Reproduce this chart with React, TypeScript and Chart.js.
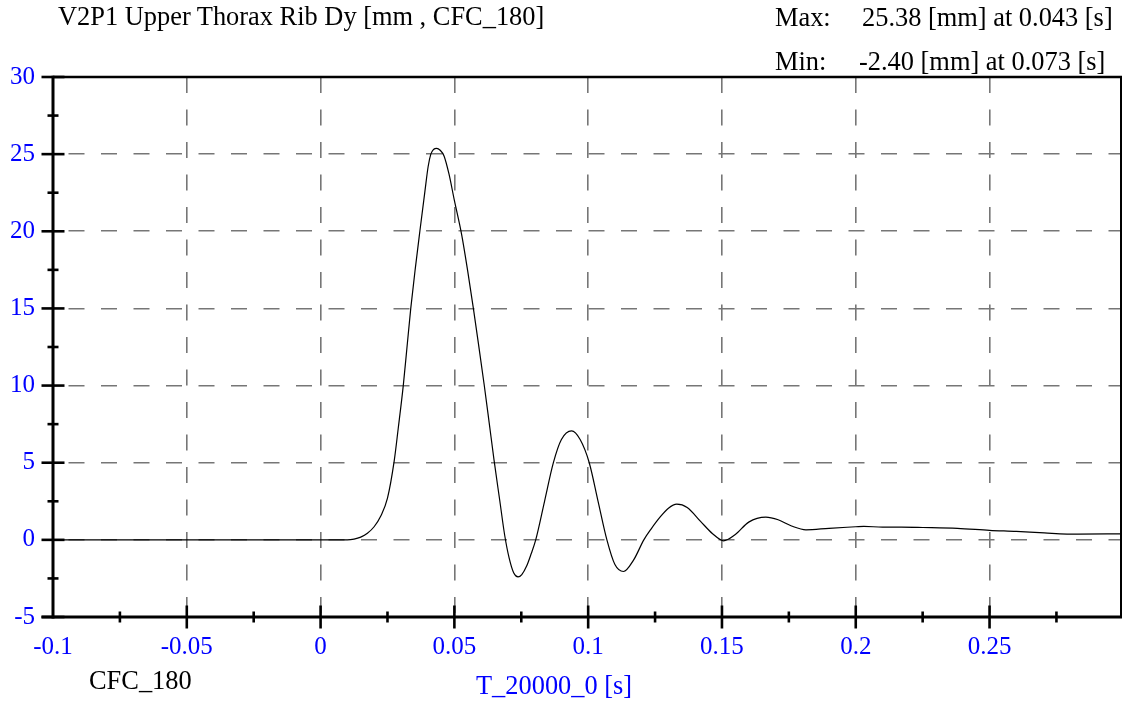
import React, { useEffect, useRef } from "react";
import { Chart, registerables } from "chart.js";

Chart.register(...registerables);

// ---- data ----
const timeS: number[] = [
  -0.1, -0.05, 0.0, 0.01, 0.0125, 0.015, 0.0175, 0.02, 0.0225, 0.025, 0.0275, 0.029,
  0.0309, 0.0323, 0.0337, 0.0354, 0.0371, 0.039, 0.0402, 0.0412, 0.0422, 0.0434, 0.0447,
  0.0461, 0.048, 0.05, 0.0527, 0.055, 0.0571, 0.059, 0.0611, 0.063, 0.0648, 0.067, 0.0688,
  0.0705, 0.0722, 0.0738, 0.0752, 0.077, 0.0787, 0.0804, 0.0837, 0.087, 0.09, 0.0938,
  0.097, 0.1004, 0.1037, 0.107, 0.11, 0.1132, 0.117, 0.1208, 0.1235, 0.127, 0.13, 0.1331,
  0.137, 0.142, 0.1465, 0.1506, 0.155, 0.16, 0.1664, 0.171, 0.176, 0.1814, 0.19, 0.2,
  0.203, 0.21, 0.217, 0.225, 0.238, 0.25, 0.26, 0.2705, 0.283, 0.2995,
];
const ribDyMm: number[] = [
  0, 0, 0, 0, 0.05, 0.18, 0.43, 0.85, 1.55, 2.7, 5.1, 7.2,
  10, 12.5, 15, 17.6, 20, 22.6, 24.2, 25.0, 25.3, 25.38, 25.25,
  24.9, 23.7, 22.0, 19.8, 17.4, 15, 12.7, 10.1, 7.6, 5.2, 2.5, 0.3,
  -1.2, -2.15, -2.4, -2.25, -1.7, -0.9, 0, 2.5, 5, 6.5, 7.06,
  6.5, 5, 2.5, 0, -1.6, -2.05, -1.3, 0, 0.7, 1.5, 2.05, 2.31,
  2.1, 1.2, 0.4, -0.06, 0.35, 1.15, 1.47, 1.3, 0.9, 0.65, 0.75, 0.85,
  0.88, 0.82, 0.82, 0.8, 0.75, 0.62, 0.55, 0.45, 0.37, 0.39,
];

const xMajorTicks: number[] = [-0.1, -0.05, 0, 0.05, 0.1, 0.15, 0.2, 0.25];
const xTickLabels: string[] = ["-0.1", "-0.05", "0", "0.05", "0.1", "0.15", "0.2", "0.25"];
const xMinorTicks: number[] = [-0.075, -0.025, 0.025, 0.075, 0.125, 0.175, 0.225, 0.275];
const yMajorTicks: number[] = [-5, 0, 5, 10, 15, 20, 25, 30];
const yTickLabels: string[] = ["-5", "0", "5", "10", "15", "20", "25", "30"];
const yMinorTicks: number[] = [-2.5, 2.5, 7.5, 12.5, 17.5, 22.5, 27.5];

const titleText = "V2P1 Upper Thorax Rib Dy [mm , CFC_180]";
const maxLabel = "Max:";
const maxText = "25.38 [mm] at 0.043 [s]";
const minLabel = "Min:";
const minText = "-2.40 [mm] at 0.073 [s]";
const filterText = "CFC_180";
const xAxisTitle = "T_20000_0 [s]";

const X_MIN = -0.1;
const X_MAX = 0.2995;
const Y_MIN = -5;
const Y_MAX = 30;

const FONT = "'Liberation Serif', 'Times New Roman', serif";

const axesPlugin = {
  id: "axesPlugin",
  afterDraw(chart: any) {
    const { ctx, chartArea } = chart;
    const { left, right, top, bottom } = chartArea;
    const xs = chart.scales.x;
    const ys = chart.scales.y;
    ctx.save();
    ctx.strokeStyle = "#000";
    ctx.lineCap = "butt";
    const line = (x1: number, y1: number, x2: number, y2: number, w: number) => {
      ctx.lineWidth = w;
      ctx.beginPath();
      ctx.moveTo(x1, y1);
      ctx.lineTo(x2, y2);
      ctx.stroke();
    };
    line(left, top, right, top, 2.5);
    line(right - 1, top, right - 1, bottom, 2);
    line(left, top - 1.25, left, bottom + 1.5, 3);
    line(left - 11.5, bottom, right, bottom, 3);
    xMajorTicks.forEach((v) => {
      if (v === X_MIN) return;
      const px = xs.getPixelForValue(v);
      line(px, bottom - 11.5, px, bottom + 11.5, 2.6);
    });
    xMinorTicks.forEach((v) => {
      const px = xs.getPixelForValue(v);
      line(px, bottom - 5.5, px, bottom + 5.5, 2.6);
    });
    yMajorTicks.forEach((v) => {
      const py = ys.getPixelForValue(v);
      line(left - 11.5, py, left + 11.5, py, 2.6);
    });
    yMinorTicks.forEach((v) => {
      const py = ys.getPixelForValue(v);
      line(left - 5.5, py, left + 5.5, py, 2.6);
    });
    ctx.restore();
  },
};

export default function App() {
  const canvasRef = useRef<HTMLCanvasElement | null>(null);

  useEffect(() => {
    const canvas = canvasRef.current;
    if (!canvas) return;
    const chart = new Chart(canvas, {
      type: "line",
      data: {
        datasets: [
          {
            label: titleText,
            data: timeS.map((t, i) => ({ x: t, y: ribDyMm[i] })),
            borderColor: "#000",
            borderWidth: 1.2,
            pointRadius: 0,
            fill: false,
            cubicInterpolationMode: "monotone",
          },
        ],
      },
      options: {
        responsive: false,
        animation: false,
        devicePixelRatio: 1,
        layout: { padding: { top: 77, right: 1, left: 0, bottom: 0 } },
        plugins: {
          legend: { display: false },
          title: { display: false },
          tooltip: { enabled: false },
        },
        scales: {
          x: {
            type: "linear",
            min: X_MIN,
            max: X_MAX,
            afterBuildTicks: (s: any) => {
              s.ticks = xMajorTicks.map((v) => ({ value: v }));
            },
            afterFit: (s: any) => {
              s.height = 85;
            },
            ticks: {
              color: "#0000ff",
              font: { family: FONT, size: 25 },
              padding: 15,
              maxRotation: 0,
              autoSkip: false,
              callback: (v: any) => {
                const i = xMajorTicks.findIndex((m) => Math.abs(m - Number(v)) < 1e-9);
                return i >= 0 ? xTickLabels[i] : "";
              },
            },
            grid: {
              color: "#767676",
              lineWidth: 1.6,
              drawTicks: false,
            },
            border: { display: false, dash: [16, 16.5], dashOffset: 0 },
          },
          y: {
            type: "linear",
            min: Y_MIN,
            max: Y_MAX,
            afterBuildTicks: (s: any) => {
              s.ticks = yMajorTicks.map((v) => ({ value: v }));
            },
            afterFit: (s: any) => {
              s.width = 53;
            },
            ticks: {
              color: "#0000ff",
              font: { family: FONT, size: 25 },
              padding: 18,
              autoSkip: false,
              callback: (v: any) => {
                const i = yMajorTicks.findIndex((m) => Math.abs(m - Number(v)) < 1e-9);
                return i >= 0 ? yTickLabels[i] : "";
              },
            },
            grid: {
              color: "#767676",
              lineWidth: 1.6,
              drawTicks: false,
            },
            border: { display: false, dash: [16, 16.5], dashOffset: 17 },
          },
        },
      },
      plugins: [axesPlugin],
    } as any);
    return () => chart.destroy();
  }, []);

  const txt = (extra: React.CSSProperties): React.CSSProperties => ({
    position: "absolute",
    fontFamily: FONT,
    fontSize: 26.4,
    lineHeight: "26px",
    whiteSpace: "nowrap",
    color: "#000",
    ...extra,
  });

  return (
    <div style={{ position: "absolute", left: 0, top: 0, width: 1123, height: 702, background: "#fff" }}>
      <canvas ref={canvasRef} width={1123} height={702} style={{ display: "block", width: 1123, height: 702 }} />
      <div style={txt({ left: 58, top: 3 })}>{titleText}</div>
      <div style={txt({ left: 775, top: 4 })}>{maxLabel}</div>
      <div style={txt({ left: 862, top: 4 })}>{maxText}</div>
      <div style={txt({ left: 775, top: 48 })}>{minLabel}</div>
      <div style={txt({ left: 859, top: 48 })}>{minText}</div>
      <div style={txt({ left: 89, top: 667 })}>{filterText}</div>
      <div style={txt({ left: 476, top: 672, color: "#0000ff" })}>{xAxisTitle}</div>
    </div>
  );
}
